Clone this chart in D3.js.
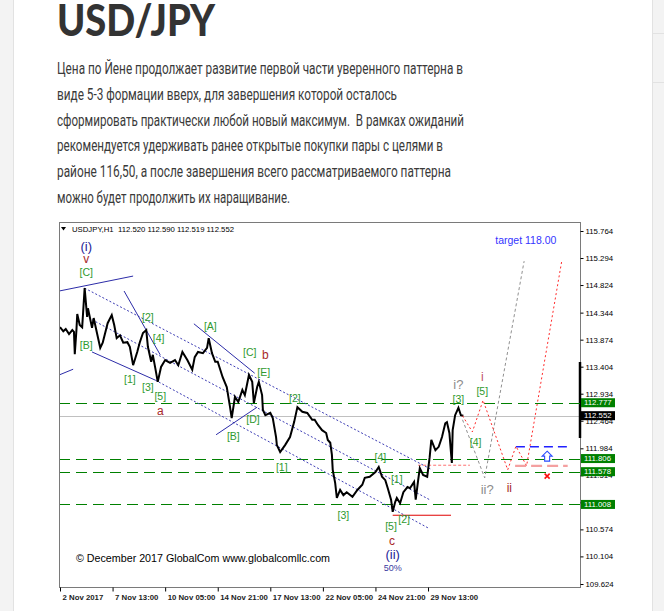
<!DOCTYPE html>
<html><head><meta charset="utf-8">
<script src="https://cdn.jsdelivr.net/npm/d3@7/dist/d3.min.js"></script>
<style>body{margin:0;background:#f3f3f3;overflow:hidden}svg{display:block}</style>
</head><body>
<svg id="c" width="664" height="611"></svg>
<script>
// ---------- DATA ----------
const titleText = "USD/JPY";
const paragraphLines = [
  "Цена по Йене продолжает развитие первой части уверенного паттерна в",
  "виде 5-3 формации вверх, для завершения которой осталось",
  "сформировать практически любой новый максимум.  В рамках ожиданий",
  "рекомендуется удерживать ранее открытые покупки пары с целями в",
  "районе 116,50, а после завершения всего рассматриваемого паттерна",
  "можно будет продолжить их наращивание."
];
const chartHeader = "USDJPY,H1  112.520 112.590 112.519 112.552";
const copyrightText = "© December 2017 GlobalCom www.globalcomllc.com";

const yTickLabels = ["115.764","115.294","114.824","114.344","113.874","113.404","112.934","112.464","111.984","111.514","111.044","110.574","110.104","109.624"];
const xTickLabels = ["2 Nov 2017","7 Nov 13:00","10 Nov 05:00","14 Nov 21:00","17 Nov 13:00","22 Nov 05:00","24 Nov 21:00","29 Nov 13:00"];
const xTickBars = [0,64,128,192,256,320,384,448];

// price path: hourly bar index (from 2 Nov 21:00) and price
const priceBars = [0,4,7,11,15,17,18,20,21,24,27,30,33,34,39,41,45,49,52,58,63,66,69,73,77,82,85,89,94,97,101,105,107,111,113,116,119,123,128,134,140,144,149,155,161,164,168,174,179,181,185,189,192,198,203,207,209,213,217,222,225,230,234,236,240,242,246,247,250,256,259,263,264,268,274,280,285,289,295,301,307,310,314,319,324,326,329,331,332,335,337,341,345,349,356,362,368,371,377,384,388,392,396,399,403,405,408,410,414,418,423,426,431,433,436,438,442,447,450,452,457,461,465,469,471,474,476,477,478,481,485,488,491];
const priceValues = [114.09,114.02,114.06,113.97,114.04,114.01,113.62,114.04,114.32,114.13,114.09,114.77,114.27,114.42,114.08,114.25,113.99,113.73,113.82,114.16,114.30,114.13,113.90,113.95,113.82,113.83,113.75,113.43,113.66,113.82,113.99,114.04,113.75,113.49,113.61,113.38,113.14,113.40,113.52,113.47,113.52,113.43,113.66,113.52,113.35,113.57,113.66,113.64,113.73,113.90,113.64,113.49,113.49,113.22,113.05,112.70,112.51,112.88,112.79,113.00,112.91,113.26,113.14,112.77,113.05,113.14,112.91,112.65,112.56,112.60,112.51,112.18,112.04,111.92,112.04,112.18,112.44,112.70,112.62,112.60,112.48,112.48,112.39,112.30,112.25,112.13,112.08,111.87,111.61,111.38,111.12,111.26,111.17,111.22,111.14,111.26,111.35,111.47,111.49,111.57,111.66,111.49,111.43,111.29,111.09,110.88,111.05,111.12,111.03,111.22,111.31,111.29,111.40,111.09,111.43,111.64,111.52,111.49,111.83,112.13,111.95,112.01,112.18,112.42,112.44,112.25,111.90,111.73,112.30,112.56,112.69,112.56,112.55];

const levelValues = [112.777, 111.806, 111.578, 111.008];
const levelLabels = ["112.777","111.806","111.578","111.008"];
const lastPrice = 112.552;
const lastPriceLabel = "112.552";

// trend lines [bar, price]
const solidTrendLines = [
  [[-1,114.72],[89,114.98]],
  [[-1,113.26],[16,113.36]],
  [[78,114.72],[122,113.61]],
  [[163,114.15],[237,113.29]],
  [[190,112.22],[240,112.70]],
  [[39,113.66],[116,113.17]]
];
const channelLines = [
  [[30,114.77],[453,111.61]],
  [[39,114.22],[450,111.09]],
  [[116,113.17],[448,110.60]]
];
const redSolidLine = [[405,110.82],[476,110.82]];
const redDottedLevel = [[436,111.69],[499,111.69]];
const blueDashedLevel = [[555,112.01],[617,112.01]];
const pinkDashedLevel = [[554,111.68],[618,111.68]];
const grayProjection = [[490,112.48],[517,111.47],[565,115.24]];
const redProjection = [[490,112.55],[502,112.27],[515,112.82],[545,111.61],[555,112.02],[568,111.68],[611,115.26]];
const arrowPoint = [593,111.83];
const crossPoint = [593,111.50];

// wave labels: text, bar, price, style group
const waveLabels = [
  ["(i)",32,115.50,"navy"],["v",32,115.28,"red"],["[C]",32,115.05,"green"],
  ["[B]",32,113.78,"green"],["[2]",107,114.27,"green"],["[4]",120,113.89,"green"],
  ["[1]",85,113.19,"green"],["[3]",107,113.05,"green"],["[5]",122,112.88,"green"],
  ["a",122,112.63,"red"],["[A]",183,114.11,"green"],["[C]",231,113.66,"green"],
  ["b",250,113.61,"red"],["[E]",248,113.31,"green"],["[D]",235,112.48,"green"],
  ["[B]",211,112.20,"green"],["[2]",286,112.86,"green"],["[1]",270,111.66,"green"],
  ["[3]",345,110.81,"green"],["[4]",390,111.83,"green"],["[1]",410,111.45,"green"],
  ["[5]",403,110.63,"green"],["[2]",419,110.75,"green"],["c",404,110.37,"red"],
  ["(ii)",405,110.13,"navy"],["50%",405,109.90,"navysmall"],
  ["i?",485,113.10,"gray"],["[3]",485,112.84,"green"],["i",514,113.22,"pink"],
  ["[5]",514,112.98,"green"],["[4]",506,112.09,"green"],["ii?",520,111.26,"gray"],
  ["ii",547,111.29,"red"],["target 118.00",567,115.61,"blue"]
];

// ---------- DRAW ----------
const svg = d3.select("#c");
// page background panels
svg.append("rect").attr("x",13).attr("y",0).attr("width",639).attr("height",611).attr("fill","#fff");
svg.append("line").attr("x1",13.5).attr("x2",13.5).attr("y1",0).attr("y2",611).attr("stroke","#e2e2e2");
svg.append("line").attr("x1",652.5).attr("x2",652.5).attr("y1",0).attr("y2",611).attr("stroke","#e2e2e2");
svg.append("line").attr("x1",652).attr("x2",664).attr("y1",33.5).attr("y2",33.5).attr("stroke","#e2e2e2");
svg.append("line").attr("x1",652).attr("x2",664).attr("y1",82.5).attr("y2",82.5).attr("stroke","#e2e2e2");

svg.append("text").attr("x",57).attr("y",36).text(titleText)
  .attr("font-family","Lato, 'Open Sans', sans-serif").attr("font-weight",900)
  .attr("font-size",43).attr("fill","#333").attr("textLength",158).attr("lengthAdjust","spacingAndGlyphs");

const lineWidths = [406,340,407,386,394,233];
svg.selectAll("text.para").data(paragraphLines).join("text").attr("class","para")
  .attr("x",57).attr("y",(d,i)=>74+i*25.8).text(d=>d)
  .attr("font-family","Roboto, 'Open Sans', sans-serif").attr("font-size",16.5).attr("fill","#3a3a3a")
  .attr("textLength",(d,i)=>lineWidths[i]).attr("lengthAdjust","spacingAndGlyphs")
  .style("white-space","pre");

// chart area
const L=59, R=580, T=222, B=587;
svg.append("rect").attr("x",50).attr("y",213).attr("width",574).attr("height",398).attr("fill","#fff");
const x = d3.scaleLinear().domain([0,633]).range([60,580]);
const yTickValues = yTickLabels.map(Number);
const y = d3.scaleLinear().domain([109.624,115.764]).range([584,231]);

const defs = svg.append("defs");
defs.append("clipPath").attr("id","plot").append("rect").attr("x",L).attr("y",T).attr("width",R-L).attr("height",B-T);
const g = svg.append("g").attr("clip-path","url(#plot)");
const line = d3.line().x(d=>x(d[0])).y(d=>y(d[1]));

// last price gray line
g.append("line").attr("x1",L).attr("x2",R).attr("y1",Math.round(y(lastPrice))+0.5).attr("y2",Math.round(y(lastPrice))+0.5).attr("stroke","#c0c0c0");
// level lines
g.selectAll("line.lvl").data(levelValues).join("line").attr("class","lvl")
  .attr("x1",L).attr("x2",R).attr("y1",d=>Math.round(y(d))+0.5).attr("y2",d=>Math.round(y(d))+0.5)
  .attr("stroke","#008000").attr("stroke-dasharray","11,6");

// channel dotted lines
g.selectAll("path.ch").data(channelLines).join("path").attr("class","ch").attr("d",line)
  .attr("fill","none").attr("stroke","#3c3cb4").attr("stroke-dasharray","2,2");
g.selectAll("path.tl").data(solidTrendLines).join("path").attr("class","tl").attr("d",line)
  .attr("fill","none").attr("stroke","#2c2ca8").attr("stroke-width",1);

g.append("path").attr("d",line(redSolidLine)).attr("stroke","#e00000").attr("fill","none");
g.append("path").attr("d",line(redDottedLevel)).attr("stroke","#ff7070").attr("stroke-dasharray","3,2").attr("fill","none");
g.append("path").attr("d",line(blueDashedLevel)).attr("stroke","#2020ff").attr("stroke-width",1.5).attr("stroke-dasharray","9,5").attr("fill","none");
g.append("path").attr("d",line(pinkDashedLevel)).attr("stroke","#f4a0a0").attr("stroke-width",2.2).attr("stroke-dasharray","11,5").attr("fill","none");

// price
g.append("path").attr("d",line(priceBars.map((b,i)=>[b,priceValues[i]])))
  .attr("fill","none").attr("stroke","#000").attr("stroke-width",2).attr("stroke-linejoin","miter");

// projections
g.append("path").attr("d",line(grayProjection)).attr("fill","none").attr("stroke","#909090").attr("stroke-dasharray","3,2.5");
g.append("path").attr("d",line(redProjection)).attr("fill","none").attr("stroke","#ff2a2a").attr("stroke-dasharray","2,2.5");

// arrow & cross
const ax = x(arrowPoint[0]), ay = y(arrowPoint[1]);
g.append("path").attr("d",`M${ax},${ay-6} L${ax+5},${ay-1} L${ax+2.5},${ay-1} L${ax+2.5},${ay+4} L${ax-2.5},${ay+4} L${ax-2.5},${ay-1} L${ax-5},${ay-1} Z`)
  .attr("fill","#fff").attr("stroke","#2a4cff").attr("stroke-width",1.1);
const cx = x(crossPoint[0]), cy = y(crossPoint[1]);
g.append("path").attr("d",`M${cx-2.5},${cy-2.5}L${cx+2.5},${cy+2.5}M${cx+2.5},${cy-2.5}L${cx-2.5},${cy+2.5}`)
  .attr("stroke","#ff1010").attr("stroke-width",1.6);

// labels
const styles = {
  green:{fill:"#2f9a2f",size:10.5},
  red:{fill:"#a82828",size:12},
  navy:{fill:"#242496",size:13},
  navysmall:{fill:"#3a3aa0",size:9},
  gray:{fill:"#8c8c8c",size:13},
  pink:{fill:"#c0506a",size:12},
  blue:{fill:"#3434ff",size:10.5}
};
g.selectAll("text.wl").data(waveLabels).join("text").attr("class","wl")
  .attr("x",d=>x(d[1])).attr("y",d=>y(d[2])).attr("dy","0.35em").attr("text-anchor","middle")
  .attr("font-family","'Liberation Sans', Arial, sans-serif")
  .attr("font-size",d=>styles[d[3]].size).attr("fill",d=>styles[d[3]].fill).text(d=>d[0]);

// frame
svg.append("rect").attr("x",L+0.5).attr("y",T+0.5).attr("width",R-L).attr("height",B-T).attr("fill","none").attr("stroke","#7a7a7a");
// scroll marker
svg.append("line").attr("x1",R).attr("x2",R).attr("y1",362).attr("y2",438).attr("stroke","#000").attr("stroke-width",2.5);

// header
svg.append("path").attr("d","M61,227 L66,227 L63.5,230.5 Z").attr("fill","#000");
svg.append("text").attr("x",72).attr("y",232).text(chartHeader).attr("font-family","'Liberation Sans', Arial, sans-serif")
  .attr("font-size",8).attr("fill","#000").attr("textLength",162).attr("lengthAdjust","spacingAndGlyphs").style("white-space","pre");
svg.append("text").attr("x",76).attr("y",562).text(copyrightText).attr("font-family","'Liberation Sans', Arial, sans-serif")
  .attr("font-size",10.5).attr("fill","#000").attr("textLength",254).attr("lengthAdjust","spacingAndGlyphs");

// right axis
const yAxis = d3.axisRight(y).tickValues(yTickValues).tickFormat((d,i)=>yTickLabels[i]).tickSize(3).tickPadding(2);
const ya = svg.append("g").attr("transform",`translate(${R+0.5},0)`).call(yAxis);
ya.select(".domain").remove();
ya.selectAll("text").attr("font-family","'Liberation Sans', Arial, sans-serif").attr("font-size",7.8).attr("fill","#000");
ya.selectAll("line").attr("stroke","#000");

// bottom axis
const xAxis = d3.axisBottom(x).tickValues(xTickBars).tickFormat((d,i)=>xTickLabels[i]).tickSize(4).tickPadding(3);
const xa = svg.append("g").attr("transform",`translate(0,${B+0.5})`).call(xAxis);
xa.select(".domain").remove();
xa.selectAll("text").attr("text-anchor","start").attr("dx",2).attr("font-family","'Liberation Sans', Arial, sans-serif")
  .attr("font-size",7.8).attr("font-weight","bold").attr("fill","#222");
xa.selectAll("line").attr("stroke","#000");

// price tags
const tags = levelValues.map((v,i)=>({v,t:levelLabels[i],c:"#008000"})).concat([{v:lastPrice,t:lastPriceLabel,c:"#000"}]);
svg.selectAll("line.tk").data(levelValues).join("line").attr("class","tk")
  .attr("x1",573).attr("x2",R).attr("y1",d=>Math.round(y(d))+0.5).attr("y2",d=>Math.round(y(d))+0.5).attr("stroke","#008000");
const tg = svg.selectAll("g.tag").data(tags).join("g").attr("class","tag").attr("transform",d=>`translate(581,${y(d.v)})`);
tg.append("rect").attr("x",0).attr("y",-4.5).attr("width",34).attr("height",9).attr("fill",d=>d.c);
tg.append("text").attr("x",3).attr("y",0).attr("dy","0.35em").text(d=>d.t).attr("fill","#fff")
  .attr("font-family","'Liberation Sans', Arial, sans-serif").attr("font-size",7.8);
</script>
</body></html>
